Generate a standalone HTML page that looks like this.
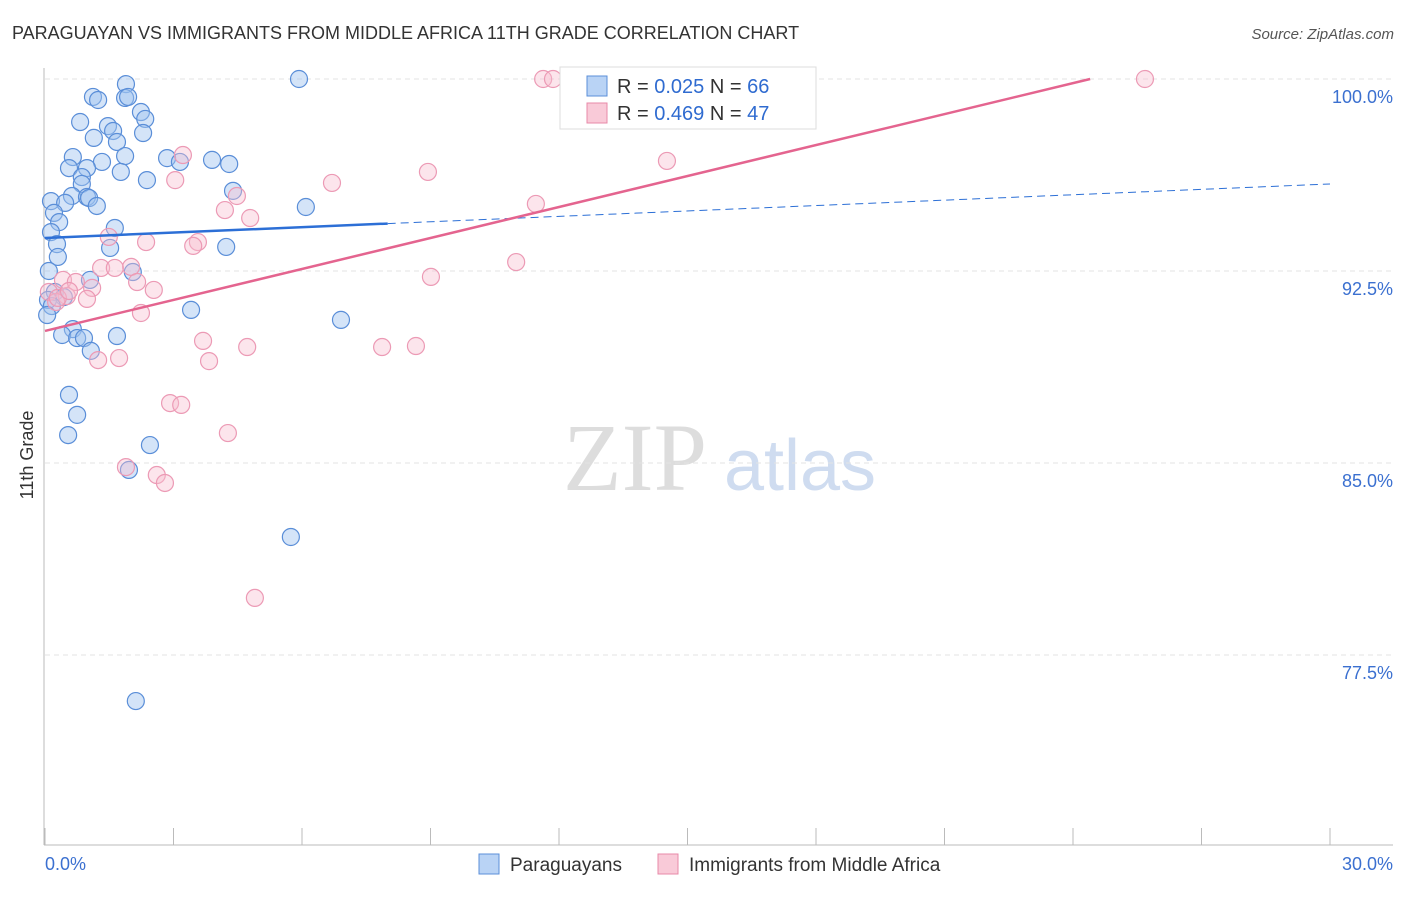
<!DOCTYPE html>
<html><head><meta charset="utf-8"><style>
body{margin:0;background:#fff;font-family:"Liberation Sans",sans-serif}
</style></head><body>
<svg width="1406" height="892" xmlns="http://www.w3.org/2000/svg" font-family="Liberation Sans, sans-serif">
<text x="12" y="39" font-size="18" fill="#333">PARAGUAYAN VS IMMIGRANTS FROM MIDDLE AFRICA 11TH GRADE CORRELATION CHART</text>
<text x="1394" y="39" font-size="15" fill="#555" font-style="italic" text-anchor="end">Source: ZipAtlas.com</text>
<text x="33" y="455" font-size="18" fill="#333" text-anchor="middle" transform="rotate(-90 33 455)">11th Grade</text>
<g>
<text x="635" y="490" font-size="96" font-family="Liberation Serif, serif" fill="#ddd" text-anchor="middle">ZIP</text>
<text x="800" y="490" font-size="72" fill="#cfdcf0" text-anchor="middle">atlas</text>
</g>
<g id="grid"></g>
<g id="axes"></g>
<g id="marks"></g>
<g>
<rect x="560" y="67" width="256" height="62" fill="#fff" stroke="#ddd"/>
<rect x="587" y="76" width="20" height="20" fill="#b9d3f5" stroke="#5b8fd9"/>
<rect x="587" y="103" width="20" height="20" fill="#f9cad8" stroke="#e889a8"/>
<text x="617" y="93" font-size="20" fill="#333">R = <tspan fill="#2f6bd0">0.025</tspan>   N = <tspan fill="#2f6bd0">66</tspan></text>
<text x="617" y="120" font-size="20" fill="#333">R = <tspan fill="#2f6bd0">0.469</tspan>   N = <tspan fill="#2f6bd0">47</tspan></text>
</g>
<g>
<rect x="479" y="854" width="20" height="20" fill="#b9d3f5" stroke="#5b8fd9"/>
<text x="510" y="871" font-size="19" fill="#333">Paraguayans</text>
<rect x="658" y="854" width="20" height="20" fill="#f9cad8" stroke="#e889a8"/>
<text x="689" y="871" font-size="19" fill="#333">Immigrants from Middle Africa</text>
</g>
</svg>
<script>
const yTicks=[100,92.5,85,77.5];
const yTickLabels=["100.0%","92.5%","85.0%","77.5%"];
const xTickLabels=["0.0%","30.0%"];
const blueX=[1.89,5.93,1.12,1.24,1.87,1.94,2.24,2.34,0.82,1.47,1.59,1.14,1.68,2.29,1.87,0.65,1.33,2.85,3.90,4.30,0.56,0.98,1.77,3.15,0.86,0.86,2.38,4.39,0.63,0.14,0.98,1.03,0.47,1.21,6.09,0.21,0.33,1.63,0.14,0.28,1.52,4.23,0.30,0.09,2.05,1.05,0.23,0.44,0.07,0.16,3.41,0.05,6.91,0.65,0.40,0.75,0.91,1.68,1.07,0.56,0.75,0.54,2.45,1.96,5.74,2.12];
const blueY=[99.80,100,99.30,99.18,99.26,99.30,98.71,98.44,98.32,98.16,97.97,97.70,97.54,97.89,96.99,96.95,96.76,96.91,96.84,96.68,96.52,96.52,96.37,96.76,96.17,95.90,96.05,95.63,95.43,95.23,95.39,95.35,95.16,95.04,95.00,94.77,94.41,94.18,94.02,93.55,93.40,93.44,93.05,92.50,92.46,92.15,91.68,91.48,91.37,91.13,90.98,90.78,90.59,90.23,90.00,89.88,89.88,89.96,89.38,87.66,86.88,86.09,85.70,84.73,82.11,75.70];
const pinkX=[11.63,11.86,25.68,3.22,14.52,3.04,8.94,6.70,4.48,4.20,11.46,4.79,1.49,2.36,3.57,3.46,11.00,2.01,1.31,1.63,9.01,0.42,0.72,1.10,2.15,2.54,0.09,0.51,0.98,0.26,2.24,3.69,4.72,7.87,8.66,1.24,1.73,3.83,2.92,3.18,4.27,1.89,2.61,2.80,4.90,0.30,0.56];
const pinkY=[100,100,100,97.03,96.80,96.05,96.37,95.94,95.43,94.88,95.12,94.57,93.83,93.63,93.63,93.48,92.85,92.66,92.62,92.62,92.27,92.15,92.07,91.84,92.07,91.76,91.68,91.52,91.41,91.29,90.86,89.77,89.53,89.53,89.57,89.02,89.10,88.98,87.34,87.27,86.17,84.84,84.53,84.22,79.73,91.45,91.72];
const blueTrend=[93.79,95.90]; // y at x=0 and x=30
const pinkTrend=[90.16,100];   // y at x=0 and x=24.4
const pinkTrendEndX=24.4, blueSolidEndX=8.0;
const NS="http://www.w3.org/2000/svg";
const sx=v=>45+v*(1285/30);
const sy=v=>79+(100-v)*25.6;
function mk(t,a,p){const e=document.createElementNS(NS,t);for(const k in a)e.setAttribute(k,a[k]);p.appendChild(e);return e;}
const grid=document.getElementById('grid'),axes=document.getElementById('axes'),marks=document.getElementById('marks');
yTicks.forEach((t,i)=>{
 const l=mk('line',{x1:45,x2:1393,y1:sy(t),y2:sy(t),stroke:'#e3e3e3','stroke-dasharray':'5,4'},grid);
 
 
 const tx=mk('text',{x:1393,y:sy(t)+24,'font-size':18,fill:'#3b70d0','text-anchor':'end'},axes);
 tx.textContent=yTickLabels[i];
 
 
});
mk('line',{x1:44,x2:44,y1:68,y2:845,stroke:'#bbb'},axes);
mk('line',{x1:44,x2:1393,y1:845,y2:845,stroke:'#bbb'},axes);
for(let i=0;i<=10;i++){const x=sx(i*3);const t=mk('line',{x1:x,x2:x,y1:828,y2:845,stroke:'#bbb'},axes);
 
 }
const xl0=mk('text',{x:45,y:870,'font-size':18,fill:'#3b70d0'},axes);xl0.textContent=xTickLabels[0];


const xl1=mk('text',{x:1393,y:870,'font-size':18,fill:'#3b70d0','text-anchor':'end'},axes);xl1.textContent=xTickLabels[1];


blueX.forEach((x,i)=>{const c=mk('circle',{cx:sx(x),cy:sy(blueY[i]),r:8.5,fill:'rgba(160,195,240,0.45)',stroke:'#5a8ed8','stroke-width':1.2},marks);
 
 });
pinkX.forEach((x,i)=>{const c=mk('circle',{cx:sx(x),cy:sy(pinkY[i]),r:8.5,fill:'rgba(248,190,208,0.4)',stroke:'#ec9ab5','stroke-width':1.2},marks);
 
 });
const by=x=>blueTrend[0]+(blueTrend[1]-blueTrend[0])*x/30;
const b1=mk('line',{x1:sx(0),y1:sy(by(0)),x2:sx(blueSolidEndX),y2:sy(by(blueSolidEndX)),stroke:'#2c6fd6','stroke-width':2.5},marks);


const b2=mk('line',{x1:sx(blueSolidEndX),y1:sy(by(blueSolidEndX)),x2:sx(30),y2:sy(by(30)),stroke:'#2c6fd6','stroke-width':1,'stroke-dasharray':'8,5'},marks);


const p1=mk('line',{x1:sx(0),y1:sy(pinkTrend[0]),x2:sx(pinkTrendEndX),y2:sy(pinkTrend[1]),stroke:'#e4648f','stroke-width':2.5},marks);


</script>
</body></html>
